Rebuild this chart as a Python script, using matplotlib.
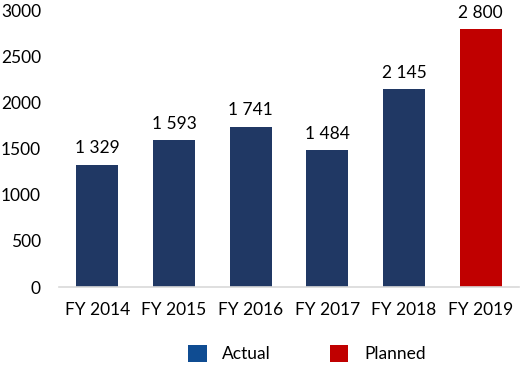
import matplotlib
matplotlib.use("Agg")
import matplotlib.pyplot as plt
from matplotlib.patches import Patch

categories = ["FY 2014", "FY 2015", "FY 2016", "FY 2017", "FY 2018", "FY 2019"]
values = [1329, 1593, 1741, 1484, 2145, 2800]
kinds = ["Actual", "Actual", "Actual", "Actual", "Actual", "Planned"]
yticks = [0, 500, 1000, 1500, 2000, 2500, 3000]

bar_colors = {"Actual": "#203864", "Planned": "#C00000"}
legend_colors = {"Actual": "#0F4C92", "Planned": "#C00000"}

plt.rcParams['font.family'] = ['Lato', 'DejaVu Sans']
fs = 12.5

fig = plt.figure(figsize=(5.2, 3.68), dpi=100)
ax = fig.add_axes([59/520, 81/368, 460/520, 276.4/368])

x = list(range(len(categories)))
ax.bar(x, values, width=0.55, color=[bar_colors[k] for k in kinds])
for xi, v in zip(x, values):
    label = f"{v:,}".replace(",", " ")
    ax.annotate(label, (xi, v), xytext=(0, 6), textcoords="offset points",
                ha="center", va="bottom", fontsize=fs, color="#000000")

ax.set_xlim(-0.5, len(categories) - 0.5)
ax.set_ylim(0, 3000)
ax.set_xticks(x)
ax.set_xticklabels(categories, fontsize=fs)
ax.set_yticks(yticks)
ax.set_yticklabels([str(t) for t in yticks], fontsize=fs)
ax.tick_params(axis='y', length=0, pad=13)
ax.tick_params(axis='x', length=0, pad=11)
for s in ["top", "right", "left"]:
    ax.spines[s].set_visible(False)
ax.spines["bottom"].set_color("#D9D9D9")
ax.spines["bottom"].set_linewidth(1.2)

handles = [Patch(facecolor=legend_colors[k], edgecolor='none', label=k) for k in ["Actual", "Planned"]]
fig.legend(handles=handles, loc="center", bbox_to_anchor=(307/520, 1 - 353.5/368), ncol=2,
           frameon=False, fontsize=fs, handlelength=1.05, handleheight=1.15,
           handletextpad=0.9, columnspacing=3.4, borderpad=0, borderaxespad=0)

fig.savefig("out.png", dpi=100)
